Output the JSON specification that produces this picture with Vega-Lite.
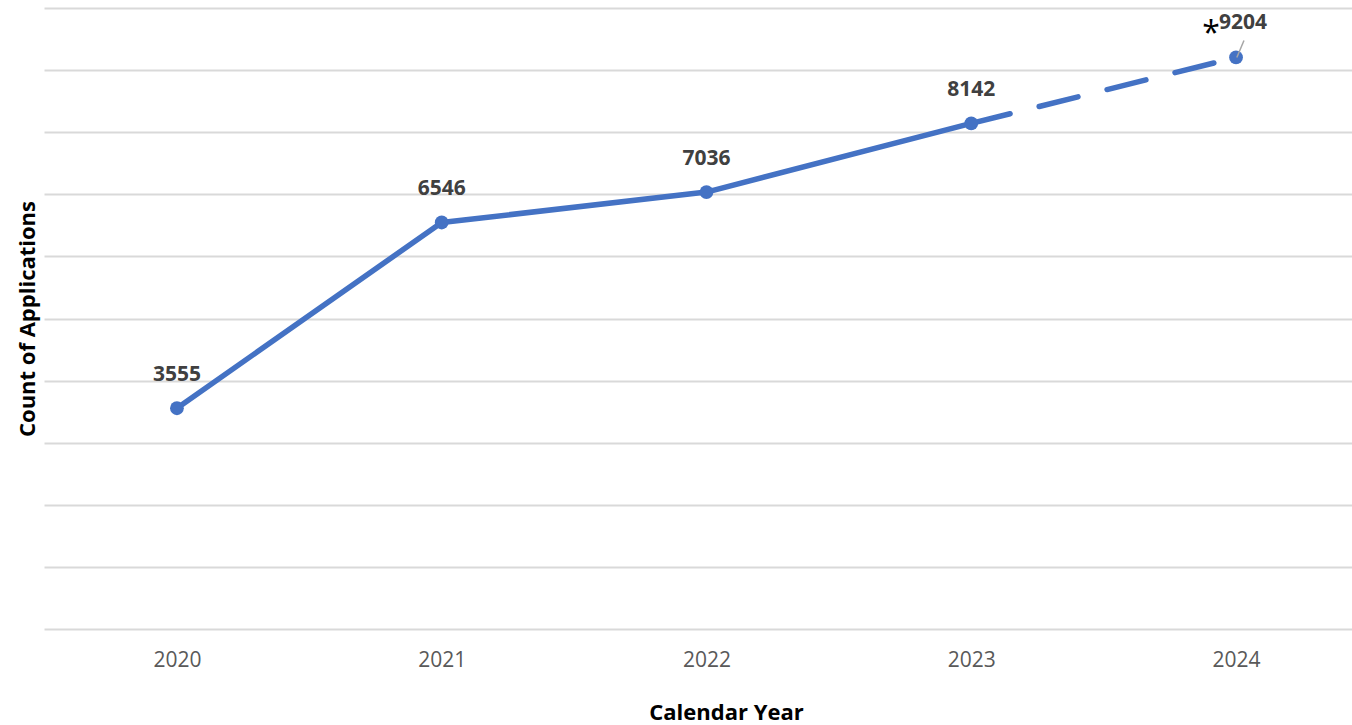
{
  "$schema": "https://vega.github.io/schema/vega-lite/v6.json",
  "width": 1308,
  "height": 621,
  "autosize": {"type": "none"},
  "padding": {"left": 44, "top": 8, "right": 0, "bottom": 96},
  "background": "white",
  "config": {"font": "Open Sans", "view": {"stroke": null}},
  "datasets": {
    "apps": [
      {"year": 2020, "count": 3555, "label": "3555"},
      {"year": 2021, "count": 6546, "label": "6546"},
      {"year": 2022, "count": 7036, "label": "7036"},
      {"year": 2023, "count": 8142, "label": "8142"},
      {"year": 2024, "count": 9204, "label": "9204"}
    ],
    "leader": [
      {"year": 2024.003, "count": 9204, "year2": 2024.03, "count2": 9478}
    ]
  },
  "data": {"name": "apps"},
  "encoding": {
    "x": {
      "field": "year", "type": "quantitative",
      "scale": {"domain": [2019.498, 2024.438], "nice": false, "zero": false},
      "axis": {
        "values": [2020, 2021, 2022, 2023, 2024], "format": "d",
        "grid": false, "ticks": false, "domain": false,
        "labelFontSize": 21, "labelColor": "#595959", "labelBaseline": "middle", "labelPadding": 31,
        "title": "Calendar Year", "titleFontSize": 22, "titleFontWeight": "bold", "titleColor": "#000000",
        "titleX": 682, "titleY": 83, "titleBaseline": "middle"
      }
    },
    "y": {
      "field": "count", "type": "quantitative",
      "scale": {"domain": [0, 10000], "nice": false},
      "axis": {
        "values": [0, 1000, 2000, 3000, 4000, 5000, 6000, 7000, 8000, 9000, 10000],
        "grid": true, "gridColor": "#d9d9d9", "gridWidth": 2,
        "labels": false, "ticks": false, "domain": false,
        "title": "Count of Applications", "titleFontSize": 22, "titleFontWeight": "bold", "titleColor": "#000000",
        "titleX": -17, "titleY": 310.5, "titleBaseline": "middle"
      }
    }
  },
  "layer": [
    {
      "transform": [{"filter": "datum.year <= 2023"}],
      "mark": {"type": "line", "color": "#4472C4", "strokeWidth": 5.5, "strokeCap": "round", "strokeJoin": "round"}
    },
    {
      "transform": [{"filter": "datum.year >= 2023"}],
      "mark": {"type": "line", "color": "#4472C4", "strokeWidth": 5.5, "strokeCap": "round", "strokeDash": [40, 30]}
    },
    {
      "mark": {"type": "circle", "color": "#4472C4", "opacity": 1, "size": 190}
    },
    {
      "data": {"name": "leader"},
      "mark": {"type": "rule", "color": "#a6a6a6", "strokeWidth": 1.5},
      "encoding": {
        "x": {"field": "year", "type": "quantitative"},
        "y": {"field": "count", "type": "quantitative"},
        "x2": {"field": "year2"},
        "y2": {"field": "count2"}
      }
    },
    {
      "transform": [{"filter": "datum.year < 2024"}],
      "mark": {"type": "text", "fontSize": 21, "fontWeight": "bold", "color": "#404040", "baseline": "middle", "dy": -33},
      "encoding": {"text": {"field": "label"}}
    },
    {
      "transform": [{"filter": "datum.year == 2024"}],
      "mark": {"type": "text", "fontSize": 21, "fontWeight": "bold", "color": "#404040", "baseline": "middle", "dx": 7, "dy": -34},
      "encoding": {"text": {"field": "label"}}
    },
    {
      "transform": [{"filter": "datum.year == 2024"}],
      "mark": {"type": "text", "text": "*", "fontSize": 32, "color": "#000000", "baseline": "middle", "dx": -25, "dy": -23}
    }
  ]
}
